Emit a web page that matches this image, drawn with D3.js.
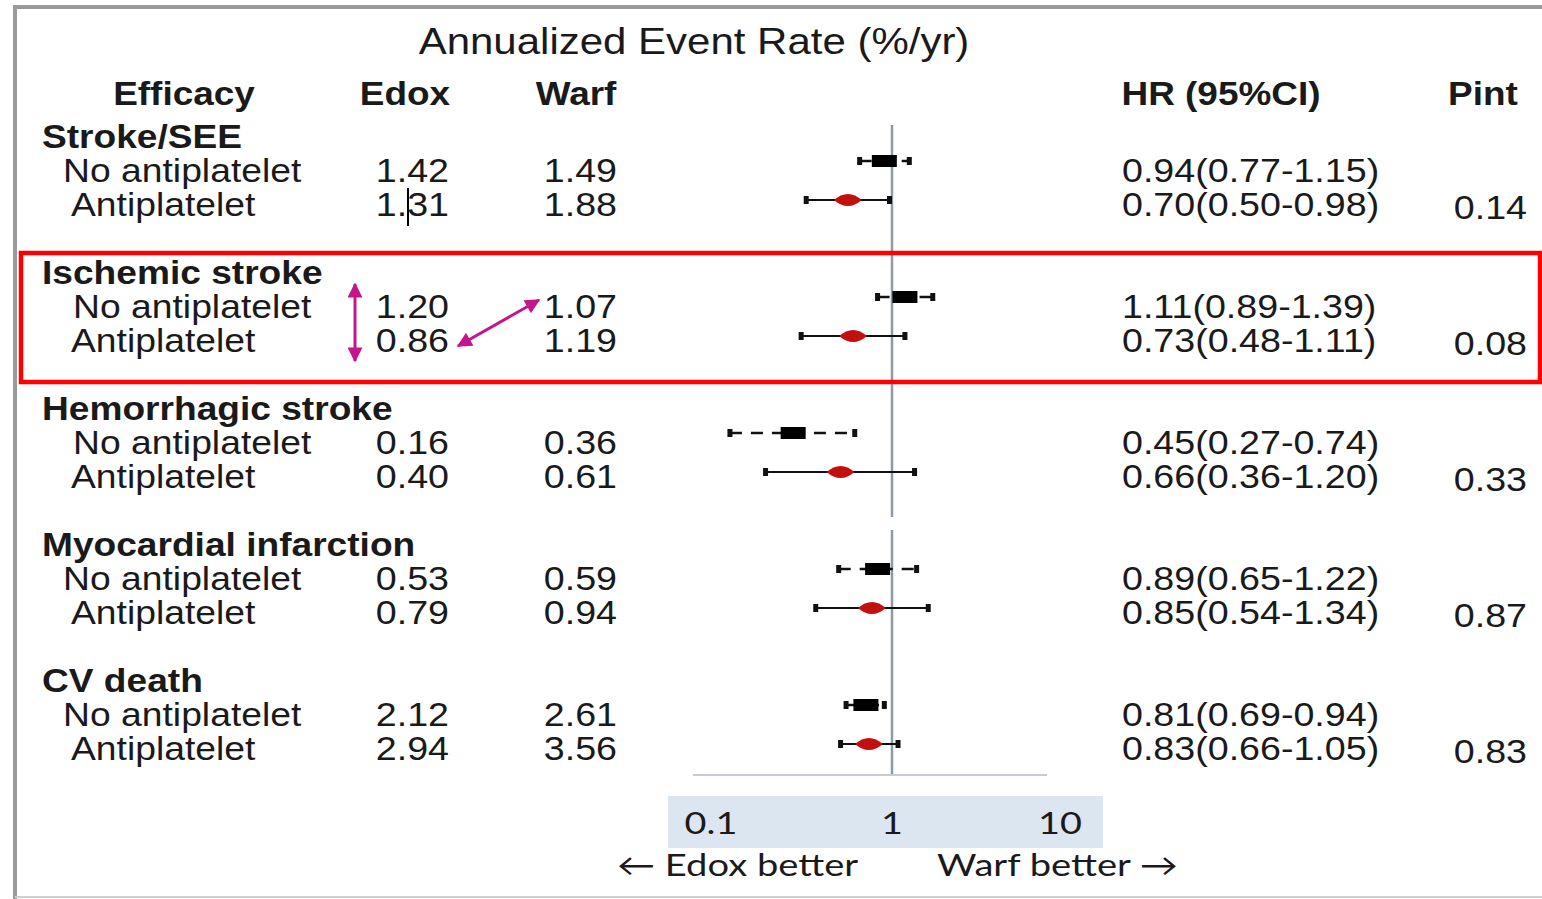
<!DOCTYPE html>
<html>
<head>
<meta charset="utf-8">
<script src="https://cdn.jsdelivr.net/npm/d3@7"></script>
<style>
body { margin:0; background:#fff; }
svg { display:block; }
</style>
</head>
<body>
<svg width="1542" height="899"></svg>
<script>
// data
var groups = ["Stroke/SEE","Ischemic stroke","Hemorrhagic stroke","Myocardial infarction","CV death"];
var subgroups = ["No antiplatelet","Antiplatelet"];
var edox = [[1.42,1.31],[1.20,0.86],[0.16,0.40],[0.53,0.79],[2.12,2.94]];
var warf = [[1.49,1.88],[1.07,1.19],[0.36,0.61],[0.59,0.94],[2.61,3.56]];
var hr   = [[0.94,0.70],[1.11,0.73],[0.45,0.66],[0.89,0.85],[0.81,0.83]];
var lo   = [[0.77,0.50],[0.89,0.48],[0.27,0.36],[0.65,0.54],[0.69,0.66]];
var hi   = [[1.15,0.98],[1.39,1.11],[0.74,1.20],[1.22,1.34],[0.94,1.05]];
var pint = ["0.14","0.08","0.33","0.87","0.83"];
var axisTicks = [0.1,1,10];

window.onload = function()
{
	var svg = d3.select("svg");
	var font = "'Liberation Sans', Arial, sans-serif";
	var sx = 1.11;

	// marks scale (log) and label scale for the shaded tick strip
	var x = d3.scaleLog().domain([0.1,10]).range([892-285,892+285]);
	var xlab = d3.scaleLog().domain([0.1,1,10]).range([711,892,1060]);
	var yg = d3.scaleLinear().domain([0,4]).range([136,680]);
	var indent = [63,73,73,63,63];

	function txt(px,py,s,size,weight,anchor,scalex,family,fill)
	{
		return svg.append("text")
			.attr("transform","translate("+px+","+py+") scale("+(scalex||sx)+",1)")
			.attr("text-anchor",anchor||"start")
			.attr("font-family",family||font)
			.attr("font-size",size)
			.attr("font-weight",weight||"normal")
			.attr("fill",fill||"#1a1a1a")
			.text(s);
	}

	// frame
	svg.append("path").attr("d","M1542,7H15V899").attr("fill","none").attr("stroke","#9a9a9a").attr("stroke-width",4);
	svg.append("line").attr("x1",15).attr("x2",1542).attr("y1",897).attr("y2",897).attr("stroke","#d0d0d0").attr("stroke-width",2);

	// headers
	txt(694,54,"Annualized Event Rate (%/yr)",37,"normal","middle",1.135);
	var hy = 105;
	txt(184,hy,"Efficacy",33,"bold","middle",1.12);
	txt(405,hy,"Edox",33,"bold","middle",1.12);
	txt(576,hy,"Warf",33,"bold","middle",1.12);
	txt(1221,hy,"HR (95%CI)",33,"bold","middle",1.12);
	txt(1483,hy,"Pint",33,"bold","middle",1.12);

	// reference line at HR = 1 (with the small break seen in the picture)
	var refStroke = "#8e9aa5";
	svg.append("line").attr("x1",x(1)).attr("x2",x(1)).attr("y1",125).attr("y2",517).attr("stroke",refStroke).attr("stroke-width",2.5);
	svg.append("line").attr("x1",x(1)).attr("x2",x(1)).attr("y1",530).attr("y2",776).attr("stroke",refStroke).attr("stroke-width",2.5);

	// red highlight box
	svg.append("rect").attr("x",21).attr("y",253).attr("width",1519).attr("height",129)
		.attr("fill","none").attr("stroke","#ff0000").attr("stroke-width",4.5);

	groups.forEach(function(g,gi)
	{
		var gy = yg(gi);
		txt(42,gy+12,g,33,"bold","start",1.125);
		subgroups.forEach(function(s,si)
		{
			var ty = gy + 34*(si+1) + 12;
			txt(si==0 ? indent[gi] : 71, ty, s, 33, "normal","start",1.13);
			txt(449, ty, edox[gi][si].toFixed(2), 33, "normal","end",1.14);
			txt(617, ty, warf[gi][si].toFixed(2), 33, "normal","end",1.14);
			txt(1122, ty, hr[gi][si].toFixed(2)+"("+lo[gi][si].toFixed(2)+"-"+hi[gi][si].toFixed(2)+")", 33, "normal","start",1.14);

			var my = gy + (si==0 ? 25 : 64);
			var x1 = x(lo[gi][si]), x2 = x(hi[gi][si]);
			svg.append("line").attr("x1",x1).attr("x2",x2).attr("y1",my).attr("y2",my)
				.attr("stroke","#111").attr("stroke-width",si==0 ? 2.5 : 1.8)
				.attr("stroke-dasharray",si==0 ? "12,9" : null);
			[x1,x2].forEach(function(cx)
			{
				svg.append("rect").attr("x",cx-2.5).attr("y",my-4).attr("width",5).attr("height",8).attr("fill","#111");
			});
			var cx = x(hr[gi][si]);
			if(si==0)
				svg.append("rect").attr("x",cx-12.5).attr("y",my-6).attr("width",25).attr("height",12).attr("fill","#000");
			else
				svg.append("path").attr("transform","translate("+cx+","+my+")")
					.attr("d","M-14,0Q0,-12 14,0Q0,12 -14,0Z").attr("fill","#c40f0f");
		});
		txt(1527, gy + 68 + 15, pint[gi], 33, "normal","end",1.14);
	});

	// text cursor artefact in "1.31"
	svg.append("line").attr("x1",408).attr("x2",408).attr("y1",188).attr("y2",226).attr("stroke","#000").attr("stroke-width",2);

	// axis line and shaded tick strip
	svg.append("line").attr("x1",693).attr("x2",1047).attr("y1",775).attr("y2",775).attr("stroke","#c9cdd3").attr("stroke-width",2);
	svg.append("rect").attr("x",668).attr("y",796).attr("width",435).attr("height",52).attr("fill","#dce6f1");
	axisTicks.forEach(function(t)
	{
		txt(xlab(t),834,d3.format("~g")(t),31,"normal","middle",1.22,"Lato, 'Open Sans', sans-serif","#1a1a1a");
	});
	txt(617,876,"\u2190 Edox better",31,"normal","start",1.23,"Lato, 'DejaVu Sans', sans-serif","#1a1a1a");
	txt(1178,876,"Warf better \u2192",31,"normal","end",1.23,"Lato, 'DejaVu Sans', sans-serif","#1a1a1a");

	// magenta annotation arrows
	var mag = "#c4168c";
	var defs = svg.append("defs");
	defs.append("marker").attr("id","ah").attr("viewBox","0 0 10 10").attr("refX",9).attr("refY",5)
		.attr("markerWidth",5.5).attr("markerHeight",5).attr("orient","auto-start-reverse").attr("markerUnits","strokeWidth")
		.append("path").attr("d","M0,0L10,5L0,10Z").attr("fill",mag);
	svg.append("line").attr("x1",355).attr("y1",284).attr("x2",355).attr("y2",361)
		.attr("stroke",mag).attr("stroke-width",3).attr("marker-start","url(#ah)").attr("marker-end","url(#ah)");
	svg.append("line").attr("x1",458).attr("y1",346).attr("x2",539).attr("y2",300)
		.attr("stroke",mag).attr("stroke-width",3).attr("marker-start","url(#ah)").attr("marker-end","url(#ah)");
}
</script>
</body>
</html>
